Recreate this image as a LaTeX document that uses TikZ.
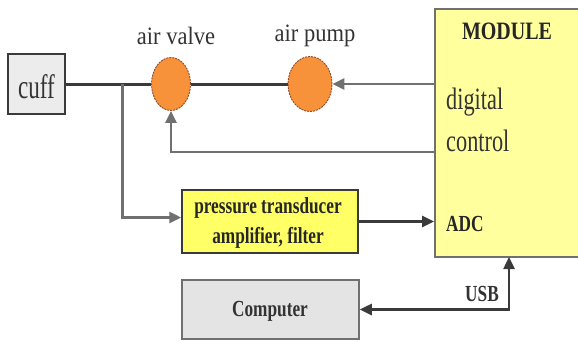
\documentclass[tikz,border=0pt]{standalone}
\usepackage{fontspec}
\usetikzlibrary{shapes.geometric,arrows.meta}
\setmainfont{Liberation Serif}
\newfontfamily\fLabel[FakeStretch=0.9]{Liberation Serif}
\newfontfamily\fCuff[FakeStretch=0.68]{Liberation Serif}
\newfontfamily\fDig[FakeStretch=0.72]{Liberation Serif}
\newfontfamily\fBold[FakeStretch=0.75]{Liberation Serif Bold}
\newfontfamily\fMod[FakeStretch=0.8]{Liberation Serif Bold}
\definecolor{boxgray}{HTML}{ECECEC}
\definecolor{compgray}{HTML}{E4E4E4}
\definecolor{modyellow}{HTML}{FFFF9E}
\definecolor{transyellow}{HTML}{FFFF66}
\definecolor{valveorange}{HTML}{F7923A}
\definecolor{valveedge}{HTML}{8B4A2A}
\definecolor{linegray}{HTML}{3A3A3A}
\definecolor{lightline}{HTML}{707070}
\definecolor{txt}{HTML}{333333}
\tikzset{
  blockbox/.style={draw=linegray, line width=1.5pt, inner sep=0pt},
  valvebox/.style={ellipse, draw=valveedge, dashed, dash pattern=on 2pt off 1pt, line width=0.9pt, fill=valveorange, inner sep=0pt},
  conn/.style={draw=linegray, line width=3pt},
  thinconn/.style={draw=lightline, line width=2.5pt},
  arr/.style={-{Triangle[length=12pt,width=11pt]}},
  birr/.style={{Triangle[length=12pt,width=11pt]}-{Triangle[length=12pt,width=11pt]}},
  lbl/.style={text=txt, inner sep=0pt}
}
\begin{document}
\begin{tikzpicture}[x=1pt,y=-1pt]
\useasboundingbox (0,0) rectangle (578,341);
\clip (0,0) rectangle (578,341);
% blocks
\node[blockbox, fill=boxgray, minimum width=57pt, minimum height=60pt] (cuff) at (36.5,84) {};
\node[lbl, font=\fCuff\fontsize{34}{36}\selectfont] (cufft) at (36.5,87) {cuff};
\node[valvebox, minimum width=39pt, minimum height=53pt] (valve) at (171,84) {};
\node[valvebox, minimum width=44pt, minimum height=55pt] (pump) at (310,84) {};
\node[draw=lightline, line width=2pt, fill=modyellow, minimum width=155pt, minimum height=248pt, inner sep=0pt] (module) at (512.5,133) {};
\node[blockbox, fill=transyellow, minimum width=176pt, minimum height=63pt] (trans) at (270,221.5) {};
\node[blockbox, draw=lightline, fill=compgray, minimum width=177pt, minimum height=59pt] (comp) at (270.5,309.5) {};
% texts
\node[lbl, font=\fLabel\fontsize{25}{28}\selectfont] (tvalve) at (176,36) {air valve};
\node[lbl, font=\fLabel\fontsize{25}{28}\selectfont] (tpump) at (315,36) {air pump};
\node[lbl, text=black!85, font=\fMod\fontsize{25}{28}\selectfont] (tmod) at (507,31) {MODULE};
\node[lbl, text=black!80, anchor=west, align=left, font=\fDig\fontsize{31}{42}\selectfont] (tdig) at (446,120) {digital\\control};
\node[lbl, text=black!85, anchor=west, font=\fBold\fontsize{23}{26}\selectfont] (tadc) at (446,224) {ADC};
\node[lbl, text=black!85, align=center, font=\fBold\fontsize{23}{30}\selectfont] (ttrans) at (268,223) {pressure transducer\\amplifier, filter};
\node[lbl, text=black!80, font=\fBold\fontsize{23}{26}\selectfont] (tcomp) at (270,311) {Computer};
\node[lbl, text=black!80, font=\fBold\fontsize{23}{26}\selectfont] (tusb) at (482,294) {USB};
% coordinates
\coordinate (junc) at (122,84);
\coordinate (fb) at (435,152);
\coordinate (usb) at (509,257);
% connectors
\draw[conn] (cuff.east) -- (valve.west);
\draw[conn] (valve.east) -- (pump.west);
\draw[thinconn, arr] (module.west |- pump.east) -- (pump.east);
\draw[thinconn, arr] (fb) -| (valve.south);
\draw[conn, draw=lightline, arr] (junc) |- ([yshift=4pt]trans.west);
\draw[thinconn, draw=linegray, arr] (trans.east) -- (module.west |- trans.east);
\draw[thinconn, draw=linegray, birr] (comp.east) -| (usb);
\end{tikzpicture}
\end{document}
